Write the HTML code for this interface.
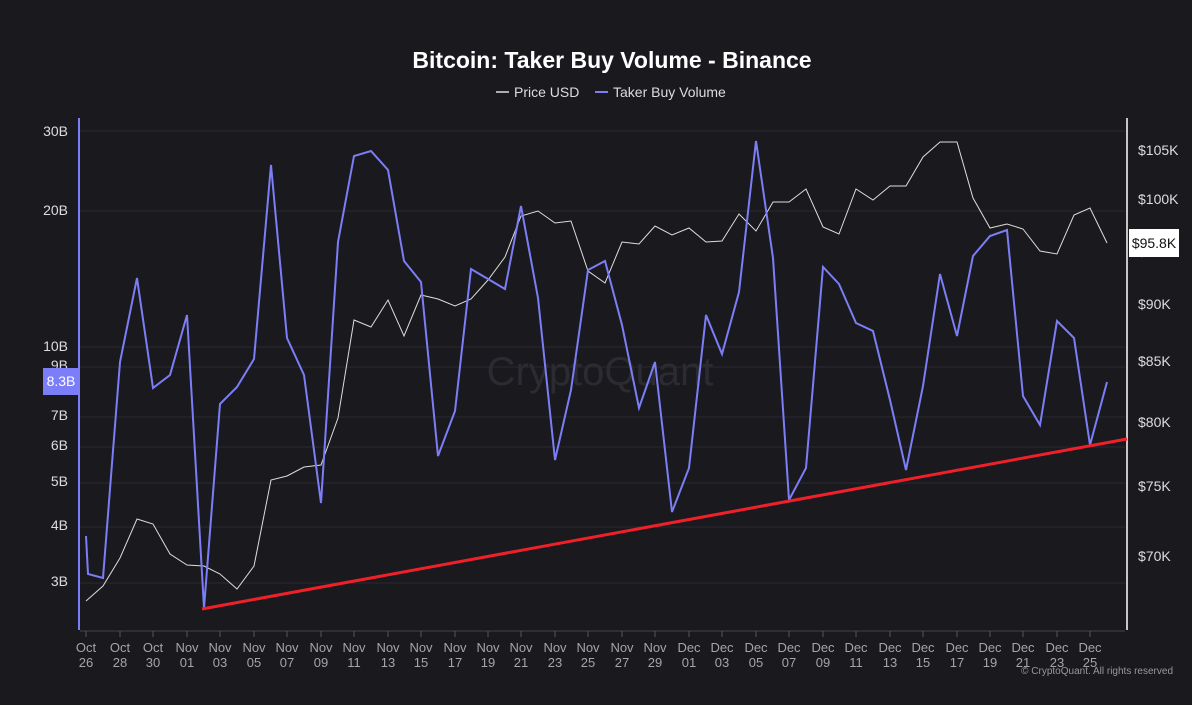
<!DOCTYPE html>
<html><head><meta charset="utf-8"><style>
html,body{margin:0;padding:0;background:#1a191e;}
svg{display:block;font-family:"Liberation Sans",sans-serif;}
</style></head><body>
<svg width="1192" height="705" viewBox="0 0 1192 705" xmlns="http://www.w3.org/2000/svg">
<rect width="1192" height="705" fill="#1a191e"/>
<text x="612" y="68" fill="#fff" font-size="23" font-weight="bold" text-anchor="middle">Bitcoin: Taker Buy Volume - Binance</text>
<line x1="496" y1="92" x2="509" y2="92" stroke="#ddd" stroke-width="1.5"/>
<text x="514" y="97" fill="#ddd" font-size="14">Price USD</text>
<line x1="595" y1="92" x2="608" y2="92" stroke="#7b7ef7" stroke-width="2"/>
<text x="613" y="97" fill="#ddd" font-size="14">Taker Buy Volume</text>
<g stroke="#2a2930" stroke-width="1">
<line x1="80" y1="131" x2="1125" y2="131"/><line x1="80" y1="211" x2="1125" y2="211"/>
<line x1="80" y1="347" x2="1125" y2="347"/><line x1="80" y1="367" x2="1125" y2="367"/>
<line x1="80" y1="417" x2="1125" y2="417"/><line x1="80" y1="447" x2="1125" y2="447"/>
<line x1="80" y1="483" x2="1125" y2="483"/><line x1="80" y1="527" x2="1125" y2="527"/>
<line x1="80" y1="583" x2="1125" y2="583"/>
</g>
<text x="600" y="385" fill="#2c2b31" font-size="40" text-anchor="middle">CryptoQuant</text>
<line x1="79" y1="118" x2="79" y2="630" stroke="#7b7ef7" stroke-width="2"/>
<line x1="1127" y1="118" x2="1127" y2="630" stroke="#fff" stroke-width="1.5"/>
<line x1="80" y1="631" x2="1125" y2="631" stroke="#444"/>
<g stroke="#555" stroke-width="1">
<line x1="86" y1="631" x2="86" y2="637"/><line x1="120" y1="631" x2="120" y2="637"/><line x1="153" y1="631" x2="153" y2="637"/><line x1="187" y1="631" x2="187" y2="637"/><line x1="220" y1="631" x2="220" y2="637"/><line x1="254" y1="631" x2="254" y2="637"/><line x1="287" y1="631" x2="287" y2="637"/><line x1="321" y1="631" x2="321" y2="637"/><line x1="354" y1="631" x2="354" y2="637"/><line x1="388" y1="631" x2="388" y2="637"/><line x1="421" y1="631" x2="421" y2="637"/><line x1="455" y1="631" x2="455" y2="637"/><line x1="488" y1="631" x2="488" y2="637"/><line x1="521" y1="631" x2="521" y2="637"/><line x1="555" y1="631" x2="555" y2="637"/><line x1="588" y1="631" x2="588" y2="637"/><line x1="622" y1="631" x2="622" y2="637"/><line x1="655" y1="631" x2="655" y2="637"/><line x1="689" y1="631" x2="689" y2="637"/><line x1="722" y1="631" x2="722" y2="637"/><line x1="756" y1="631" x2="756" y2="637"/><line x1="789" y1="631" x2="789" y2="637"/><line x1="823" y1="631" x2="823" y2="637"/><line x1="856" y1="631" x2="856" y2="637"/><line x1="890" y1="631" x2="890" y2="637"/><line x1="923" y1="631" x2="923" y2="637"/><line x1="957" y1="631" x2="957" y2="637"/><line x1="990" y1="631" x2="990" y2="637"/><line x1="1023" y1="631" x2="1023" y2="637"/><line x1="1057" y1="631" x2="1057" y2="637"/><line x1="1090" y1="631" x2="1090" y2="637"/>
</g>
<g fill="#ddd" font-size="14" text-anchor="end">
<text x="68" y="136">30B</text><text x="68" y="215">20B</text><text x="68" y="351">10B</text><text x="68" y="370">9B</text>
<text x="68" y="420">7B</text><text x="68" y="450">6B</text><text x="68" y="486">5B</text><text x="68" y="530">4B</text><text x="68" y="586">3B</text>
</g>
<rect x="43" y="368" width="36" height="27" fill="#7b7ef7"/>
<text x="61" y="386" fill="#fff" font-size="14" text-anchor="middle">8.3B</text>
<g fill="#ddd" font-size="14">
<text x="1138" y="155">$105K</text><text x="1138" y="204">$100K</text><text x="1138" y="256">$95K</text>
<text x="1138" y="309">$90K</text><text x="1138" y="366">$85K</text><text x="1138" y="427">$80K</text>
<text x="1138" y="491">$75K</text><text x="1138" y="561">$70K</text>
</g>
<rect x="1129" y="229" width="50" height="28" fill="#fff"/>
<text x="1154" y="248" fill="#111" font-size="14" text-anchor="middle">$95.8K</text>
<polyline fill="none" stroke="#ddd" stroke-width="1" points="86,601 103,586 120,558 137,519 153,524 170,554 187,565 204,566 220,574 237,589 254,566 271,480 287,476 304,467 321,465 338,418 354,320 371,327 388,300 404,336 421,295 438,299 455,306 471,299 488,280 505,257 521,216 538,211 555,223 571,221 588,271 605,283 622,242 639,244 655,226 672,235 689,228 706,242 722,241 739,214 756,231 773,202 789,202 806,189 823,227 839,234 856,189 873,200 890,186 906,186 923,157 940,142 957,142 973,198 990,228 1007,224 1023,229 1040,251 1057,254 1074,215 1090,208 1107,243"/>
<polyline fill="none" stroke="#7b7ef7" stroke-width="2" points="86,536 88,574 103,578 120,362 137,278 153,388 170,375 187,315 204,608 220,404 237,387 254,359 271,165 287,338 304,375 321,503 338,242 354,156 371,151 388,170 404,261 421,282 438,456 455,411 471,269 488,279 505,289 521,206 538,298 555,460 571,390 588,270 605,261 622,325 639,408 655,362 672,512 689,468 706,315 722,354 739,292 756,141 773,258 789,500 806,468 823,267 839,284 856,323 873,331 890,400 906,470 923,386 940,274 957,336 973,256 990,236 1007,230 1023,396 1040,425 1057,321 1074,338 1090,445 1107,382"/>
<line x1="202" y1="609" x2="1127" y2="439" stroke="#f0202a" stroke-width="3"/>
<g fill="#a5a5a5" font-size="13" text-anchor="middle">
<text x="86" y="652">Oct</text><text x="86" y="667">26</text>
<text x="120" y="652">Oct</text><text x="120" y="667">28</text>
<text x="153" y="652">Oct</text><text x="153" y="667">30</text>
<text x="187" y="652">Nov</text><text x="187" y="667">01</text>
<text x="220" y="652">Nov</text><text x="220" y="667">03</text>
<text x="254" y="652">Nov</text><text x="254" y="667">05</text>
<text x="287" y="652">Nov</text><text x="287" y="667">07</text>
<text x="321" y="652">Nov</text><text x="321" y="667">09</text>
<text x="354" y="652">Nov</text><text x="354" y="667">11</text>
<text x="388" y="652">Nov</text><text x="388" y="667">13</text>
<text x="421" y="652">Nov</text><text x="421" y="667">15</text>
<text x="455" y="652">Nov</text><text x="455" y="667">17</text>
<text x="488" y="652">Nov</text><text x="488" y="667">19</text>
<text x="521" y="652">Nov</text><text x="521" y="667">21</text>
<text x="555" y="652">Nov</text><text x="555" y="667">23</text>
<text x="588" y="652">Nov</text><text x="588" y="667">25</text>
<text x="622" y="652">Nov</text><text x="622" y="667">27</text>
<text x="655" y="652">Nov</text><text x="655" y="667">29</text>
<text x="689" y="652">Dec</text><text x="689" y="667">01</text>
<text x="722" y="652">Dec</text><text x="722" y="667">03</text>
<text x="756" y="652">Dec</text><text x="756" y="667">05</text>
<text x="789" y="652">Dec</text><text x="789" y="667">07</text>
<text x="823" y="652">Dec</text><text x="823" y="667">09</text>
<text x="856" y="652">Dec</text><text x="856" y="667">11</text>
<text x="890" y="652">Dec</text><text x="890" y="667">13</text>
<text x="923" y="652">Dec</text><text x="923" y="667">15</text>
<text x="957" y="652">Dec</text><text x="957" y="667">17</text>
<text x="990" y="652">Dec</text><text x="990" y="667">19</text>
<text x="1023" y="652">Dec</text><text x="1023" y="667">21</text>
<text x="1057" y="652">Dec</text><text x="1057" y="667">23</text>
<text x="1090" y="652">Dec</text><text x="1090" y="667">25</text>
</g>
<text x="1173" y="674" fill="#999" font-size="10" text-anchor="end">© CryptoQuant. All rights reserved</text>
</svg>
</body></html>
